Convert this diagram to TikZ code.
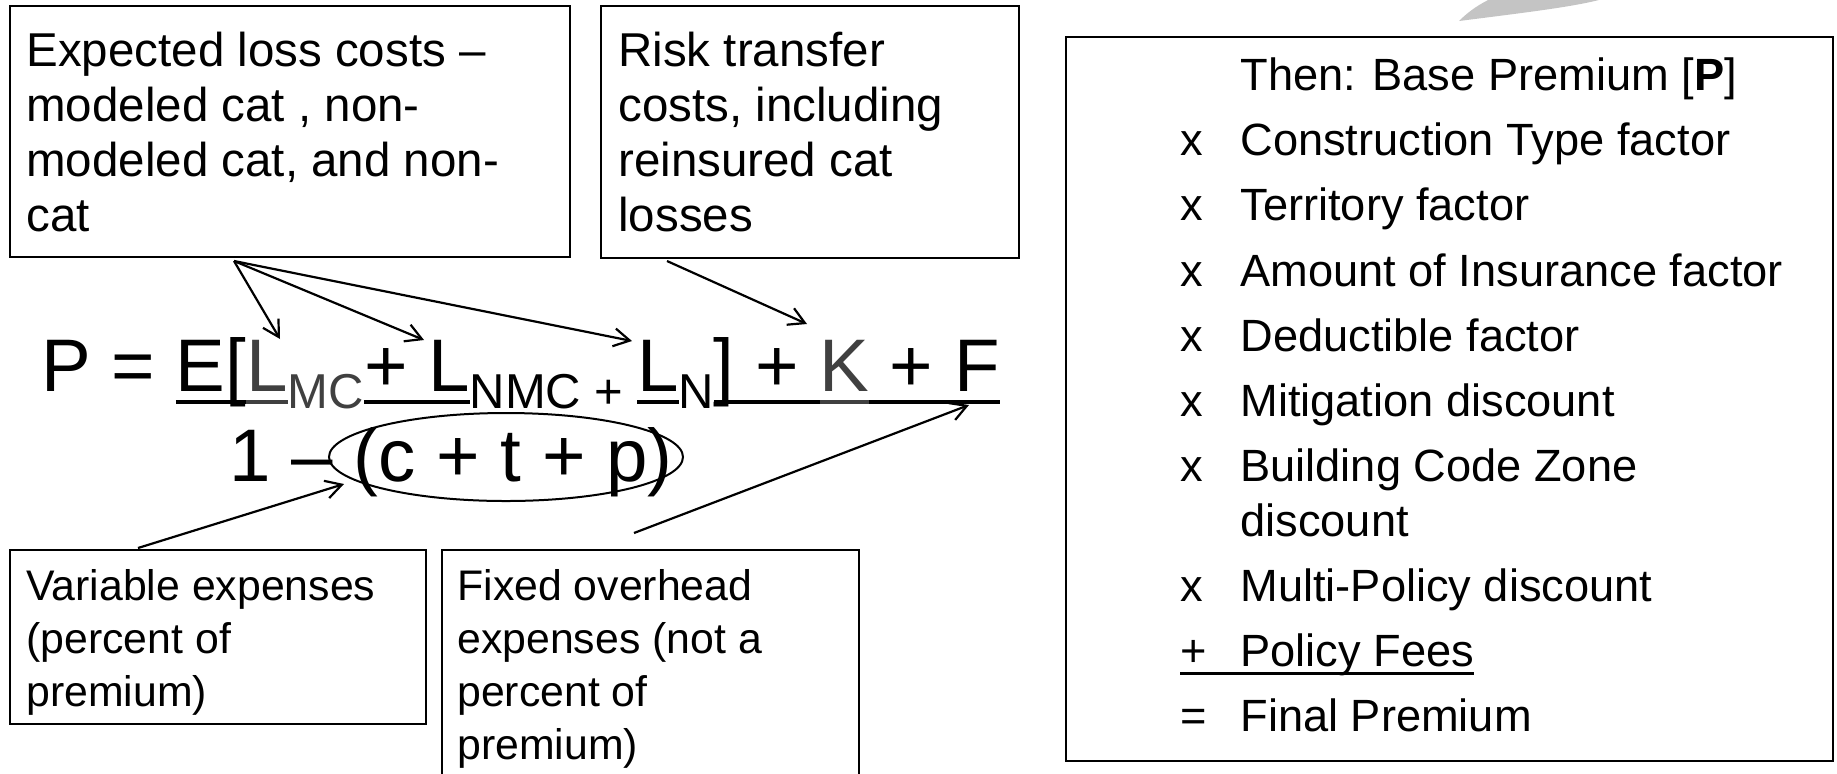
\documentclass[tikz,border=0pt]{standalone}
\usepackage{fontspec}
\setmainfont{Liberation Sans}
\usetikzlibrary{arrows.meta,shapes.geometric}

\definecolor{eqgrey}{RGB}{64,64,64}
\definecolor{bladegrey}{RGB}{196,196,196}

% underlined run of the numerator: a rule below the baseline in the run's colour
\newsavebox\ulbox
\newcommand\ulrun[2]{{\color{#1}\sbox\ulbox{#2}\rlap{\rule[-6.5pt]{\wd\ulbox}{2pt}}\usebox\ulbox}}
% lowered, smaller run (the subscripts)
\newcommand\lowrun[1]{\raisebox{-8.5pt}{\fontsize{24.5}{26}\selectfont #1}}

\begin{document}
\begin{tikzpicture}[x=0.5pt,y=-0.5pt,
  panel/.style={draw=black,line width=1.2pt,inner sep=0pt,anchor=north west},
  lbl/.style={anchor=base west,inner sep=0pt},
  ptr/.style={-{Straight Barb[length=8pt,width=9pt]},line width=1.1pt},
  bigfont/.style={font=\fontsize{23.75}{27.5}\selectfont},
  smallfont/.style={font=\fontsize{21.4}{26.5}\selectfont},
  listfont/.style={font=\fontsize{22.6}{27.5}\selectfont},
  eqfont/.style={font=\fontsize{37.25}{40}\selectfont}]

\useasboundingbox (0,0) rectangle (1837,773);

% decorative grey blade at the top edge
\fill[bladegrey] (1459,21) .. controls (1470,10) and (1480,4) .. (1492,-2)
  -- (1606,-2) .. controls (1580,6) and (1530,12) .. (1459,21) -- cycle;

% callout boxes
\node[panel,minimum width=280pt,minimum height=125.5pt] (lossbox) at (9,5) {};
\node[panel,minimum width=209pt,minimum height=126pt] (riskbox) at (600,5) {};
\node[panel,minimum width=208pt,minimum height=87pt] (varbox) at (9,549) {};
\node[panel,minimum width=208.5pt,minimum height=130pt] (fixbox) at (441,549) {};

\node[lbl,bigfont] (losstext) at (26,66.7)
  {\parbox[t]{270pt}{Expected loss costs –\\modeled cat , non-\\modeled cat, and non-\\cat}};
\node[lbl,bigfont] (risktext) at (618,66.7)
  {\parbox[t]{200pt}{Risk transfer\\costs, including\\reinsured cat\\losses}};
\node[lbl,smallfont] (vartext) at (26,600)
  {\parbox[t]{200pt}{Variable expenses\\(percent of\\premium)}};
\node[lbl,smallfont] (fixtext) at (457,600)
  {\parbox[t]{200pt}{Fixed overhead\\expenses (not a\\percent of\\premium)}};

% the premium formula
\node[lbl,eqfont] (numer) at (41,391)
  {P = \ulrun{black}{E[}\ulrun{eqgrey}{L}\lowrun{\color{eqgrey}MC}\ulrun{black}{+ L}\lowrun{NMC + }\ulrun{black}{L}\lowrun{N}\ulrun{black}{] + }\ulrun{eqgrey}{K}\ulrun{black}{ + F}};
\node[lbl,eqfont] (denom) at (229,481) {1 – (c + t + p)};
\node[draw,ellipse,line width=1pt,minimum width=177pt,minimum height=44pt,inner sep=0pt] (ctp) at (506,457) {};

% pointer ends
\coordinate (lossfoot) at (234,261);
\coordinate (riskfoot) at (667,261);
\coordinate (varhead) at (138,548);
\coordinate (fixhead) at (634,533);
\coordinate (lmc) at (280,339);
\coordinate (lnmc) at (424,340);
\coordinate (ln) at (632,341);
\coordinate (kterm) at (807,324);
\coordinate (ctptip) at (344,484);
\coordinate (fterm) at (969,405);

\draw[ptr] (lossfoot) -- (lmc);
\draw[ptr] (lossfoot) -- (lnmc);
\draw[ptr] (lossfoot) -- (ln);
\draw[ptr] (riskfoot) -- (kterm);
\draw[ptr] (varhead) -- (ctptip);
\draw[ptr] (fixhead) -- (fterm);

% rating steps
\node[panel,minimum width=383.5pt,minimum height=362pt] (factorbox) at (1065,36) {};
\node[lbl,listfont] (basep) at (1240,90.7) {Then: Base Premium [\textbf{P}]};
\foreach \n/\y/\t in {a/155.8/Construction Type factor,
                      b/220.9/Territory factor,
                      c/286/Amount of Insurance factor,
                      d/351.1/Deductible factor,
                      e/416.2/Mitigation discount,
                      g/601.4/Multi-Policy discount}{
  \node[lbl,listfont] (mark\n) at (1180,\y) {x};
  \node[lbl,listfont] (item\n) at (1240,\y) {\t};
}
\node[lbl,listfont] (markf) at (1180,481.3) {x};
\node[lbl,listfont] (itemf) at (1240,481.3) {\parbox[t]{300pt}{Building Code Zone\\discount}};
\node[lbl,listfont] (markfees) at (1180,666.5) {+};
\node[lbl,listfont] (itemfees) at (1240,666.5) {Policy Fees};
\node[lbl,listfont] (markfinal) at (1180,731.6) {=};
\node[lbl,listfont] (itemfinal) at (1240,731.6) {Final Premium};
\draw[line width=1.5pt] ([yshift=-3.4pt]markfees.base west) -- ([yshift=-3.4pt]itemfees.base east);

\end{tikzpicture}
\end{document}
